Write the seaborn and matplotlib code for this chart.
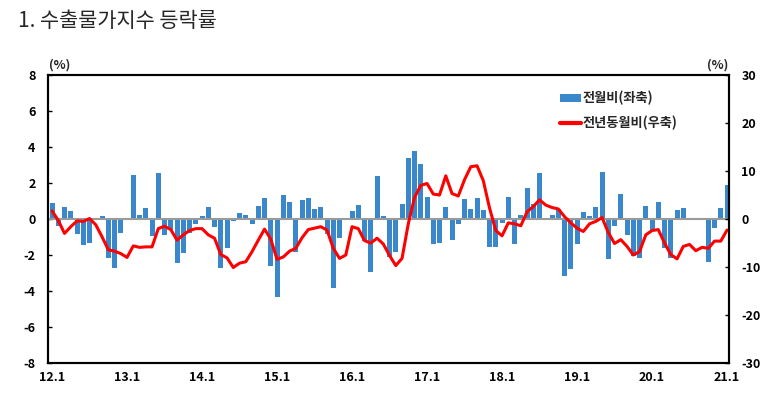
import numpy as np
import pandas as pd
import matplotlib
matplotlib.use("Agg")
import matplotlib.pyplot as plt
import seaborn as sns

# ---- data ----
months = [f"{y}.{m}" for y in range(12, 22) for m in range(1, 13)][:109]

mom = [0.90, -0.37, 0.67, 0.42, -0.83, -1.43, -1.33, -0.03, 0.17, -2.15, -2.74, -0.80,
       -0.08, 2.43, 0.24, 0.60, -0.93, 2.58, -0.90, -0.60, -2.43, -1.87, -0.75, -0.30,
       0.15, 0.67, -0.43, -2.70, -1.60, -0.10, 0.35, 0.22, -0.28, 0.72, 1.17, -2.60,
       -4.35, 1.32, 0.96, -1.83, 1.07, 1.18, 0.56, 0.68, -0.82, -3.84, -1.07, 0.05,
       0.42, 0.80, -1.22, -2.93, 2.39, 0.17, -2.13, -1.83, 0.81, 3.38, 3.80, 3.07,
       1.22, -1.41, -1.33, 0.68, -1.17, -0.26, 1.12, 0.56, 1.18, 0.51, -1.58, -1.54,
       -0.24, 1.23, -1.41, 0.21, 1.73, 0.82, 2.54, -0.06, 0.20, 0.54, -3.15, -2.78,
       -1.38, 0.41, 0.19, 0.67, 2.59, -2.20, -0.37, 1.37, -0.87, -2.08, -2.19, 0.72,
       -0.67, 0.92, -1.60, -2.19, 0.49, 0.60, 0.04, -0.06, 0.00, -2.41, -0.48, 0.60,
       1.89]

yoy = [1.7, -0.3, -3.0, -1.6, -0.4, -0.5, 0.1, -1.2, -3.7, -6.4, -6.7, -7.2,
       -8.0, -5.6, -5.9, -5.8, -5.8, -2.0, -1.5, -2.2, -4.4, -3.3, -2.4, -2.0,
       -2.0, -3.3, -4.0, -7.4, -8.1, -10.1, -9.2, -8.9, -6.8, -4.4, -2.1, -4.2,
       -8.4, -7.9, -6.7, -6.1, -3.9, -2.2, -1.9, -1.6, -2.3, -6.1, -8.2, -7.5,
       -1.6, -2.0, -4.5, -5.0, -4.0, -5.2, -7.6, -9.7, -8.2, -1.0, 4.5, 7.0,
       7.4, 5.2, 5.0, 9.0, 5.3, 4.8, 8.2, 10.9, 11.1, 8.0, 2.3, -2.4,
       -3.5, -0.8, -1.0, -1.4, 1.5, 2.6, 4.0, 2.9, 2.4, 2.1, 0.5, -0.8,
       -1.9, -2.6, -1.0, -0.5, 0.3, -2.8, -5.1, -4.3, -5.7, -7.5, -6.8, -3.3,
       -2.4, -2.2, -5.0, -7.4, -8.3, -5.7, -5.3, -6.6, -5.9, -6.1, -4.6, -4.6,
       -2.3]

xtick_labels = ["12.1", "13.1", "14.1", "15.1", "16.1", "17.1", "18.1", "19.1", "20.1", "21.1"]
left_ticks = [-8, -6, -4, -2, 0, 2, 4, 6, 8]
right_ticks = [-30, -20, -10, 0, 10, 20, 30]
title = "1. 수출물가지수 등락률"
bar_label = "전월비(좌축)"
line_label = "전년동월비(우축)"

# ---- style ----
sns.set_theme(style="white")
plt.rcParams['font.family'] = ['Noto Sans CJK KR', 'DejaVu Sans']
plt.rcParams['axes.unicode_minus'] = False

fig = plt.figure(figsize=(7.8, 3.95), dpi=100)
ax = fig.add_axes([0.0615, 0.081, 0.873, 0.729])

df = pd.DataFrame({"month": months, "mom": mom, "yoy": yoy,
                   "pos": np.arange(len(months))})

sns.barplot(data=df, x="month", y="mom", order=months, color="#3A87CB",
            saturation=1, width=0.8, ax=ax, label=bar_label, zorder=2,
            linewidth=0, edgecolor="none")
ax.axhline(0, color="#9a9a9a", lw=1.5, zorder=3)

ax2 = ax.twinx()
sns.lineplot(data=df, x="pos", y="yoy", color="#FF0000", lw=2.2, ax=ax2,
             label=line_label)

ax.set_xlim(-0.65, 108.3)
ax.set_ylim(-8, 8)
ax2.set_ylim(-30, 30)
ax.set_yticks(left_ticks)
ax.set_yticklabels([str(t) for t in left_ticks], fontweight="bold", fontsize=9)
ax2.set_yticks(right_ticks)
ax2.set_yticklabels([str(t) for t in right_ticks], fontweight="bold", fontsize=9)
ax.set_xticks(range(0, 109, 12))
ax.set_xticklabels(xtick_labels, fontweight="bold", fontsize=9)
for a in (ax, ax2):
    a.set_xlabel("")
    a.set_ylabel("")
    for s in a.spines.values():
        s.set_color("black")
        s.set_linewidth(1.5)

ax.tick_params(axis="y", direction="in", length=3, width=1, pad=9, colors="black")
ax.tick_params(axis="x", length=0, pad=6, colors="black")
ax2.tick_params(axis="y", direction="in", length=3, width=1, pad=9, colors="black")

# legend
leg1 = ax.get_legend()
if leg1 is not None:
    leg1.remove()
leg2 = ax2.get_legend()
if leg2 is not None:
    leg2.remove()
h1, l1 = ax.get_legend_handles_labels()
h2, l2 = ax2.get_legend_handles_labels()
leg = ax2.legend(h1 + h2, l1 + l2, loc="upper left", bbox_to_anchor=(0.735, 0.985),
                 frameon=False, handlelength=1.6, handleheight=0.5,
                 handletextpad=0.1, labelspacing=0.75,
                 prop={"weight": "bold", "size": 9.5})
for line in leg.get_lines():
    line.set_linewidth(3)

# unit labels and title
fig.text(60 / 780, 1 - 65 / 395, "(%)", ha="center", va="center",
         fontsize=9, fontweight="bold")
fig.text(718 / 780, 1 - 65 / 395, "(%)", ha="center", va="center",
         fontsize=9, fontweight="bold")
fig.text(18 / 780, 1 - 21 / 395, title, ha="left", va="center", fontsize=15)

fig.savefig("out.png", dpi=100)
